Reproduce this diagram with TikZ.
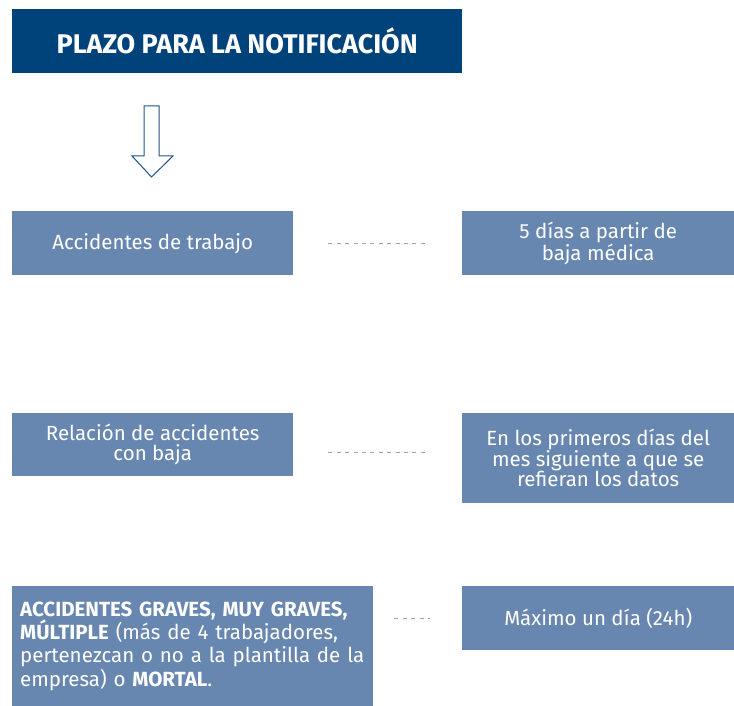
\documentclass[tikz,border=0pt]{standalone}
\usepackage{fontspec}
\setmainfont{Fira Sans}
\definecolor{titleblue}{HTML}{00437A}
\definecolor{boxblue}{HTML}{6787B0}
\definecolor{dashblue}{HTML}{8FA7C7}
\definecolor{arrowblue}{HTML}{1F5188}
\tikzstyle{panel}=[fill=boxblue, text=white, anchor=north west, inner sep=0pt, font=\fontsize{20.5}{20.5}\selectfont]
\tikzstyle{case}=[panel, align=center]
\tikzstyle{term}=[panel, align=center]
\tikzstyle{heading}=[panel, fill=titleblue, font=\fontsize{27}{30}\selectfont\bfseries]
\tikzstyle{link}=[dashblue, line width=0.9pt, dash pattern=on 4pt off 4.4pt]
\tikzstyle{hollow arrow}=[draw=arrowblue, fill=white, line width=1pt]

\begin{document}
\begin{tikzpicture}[x=1pt, y=-1pt]
      \useasboundingbox (0,0) rectangle (734,706);

      \node[heading, minimum width=450pt, minimum height=64pt] (title) at (12,9) {PLAZO PARA LA NOTIFICACIÓN};

      \coordinate (arrow top) at (151.5,106);
      \draw[hollow arrow] (arrow top) ++(-7.5,0) -- ++(15,0) -- ++(0,50) -- ++(14,0)
        -- ++(-21.5,21) -- ++(-19.5,-21) -- ++(12,0) -- cycle;

      \node[case, minimum width=281pt, minimum height=64pt] (work) at (12,211) {Accidentes de trabajo};
      \node[term, minimum width=272pt, minimum height=64pt] (term work) at (462,211) {5 días a partir de\\baja médica};

      \node[case, minimum width=281pt, minimum height=63pt] (list) at (12,413) {Relación de accidentes\\con baja};
      \node[term, minimum width=272pt, minimum height=90pt] (term list) at (462,413) {En los primeros días del\\mes siguiente a que se\\refieran los datos};

      \node[panel, minimum width=361pt, minimum height=120pt, text width=345pt, inner xsep=8pt, align=left,
        font=\fontsize{20.5}{23.3}\selectfont] (serious) at (12,586)
        {\textbf{ACCIDENTES GRAVES, MUY GRAVES,}\\\textbf{MÚLTIPLE} (más de 4 trabajadores,\\pertenezcan o no a la plantilla de la\\empresa) o \textbf{MORTAL}.};
      \node[term, minimum width=272pt, minimum height=64pt] (term serious) at (462,586) {Máximo un día (24h)};

      \draw[link, shorten <=35pt, shorten >=33pt] (work.east) -- (term work.west);
      \draw[link, shorten <=35pt, shorten >=33pt] ([yshift=-7.5pt]list.east) -- ([yshift=6pt]term list.west);
      \draw[link, shorten <=21pt, shorten >=32pt] (serious.east |- term serious.west) -- (term serious.west);
\end{tikzpicture}
\end{document}
